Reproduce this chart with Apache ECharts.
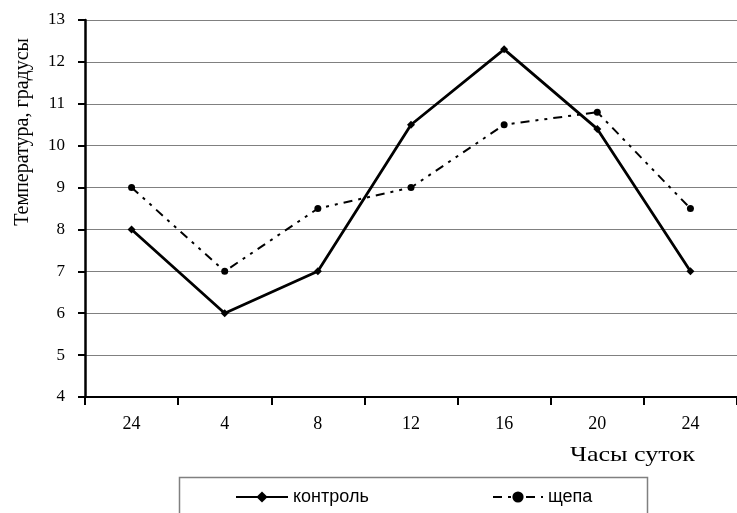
<!DOCTYPE html>
<html><head><meta charset="utf-8">
<script src="https://cdn.jsdelivr.net/npm/echarts@6/dist/echarts.min.js"></script>
<style>html,body{margin:0;padding:0;background:#fff}#c{width:737px;height:513px}</style>
</head><body><div id="c"></div>
<script>
const categories = ['24','4','8','12','16','20','24'];
const control = [8, 6, 7, 10.5, 12.3, 10.4, 7];
const chips = [9, 7, 8.5, 9, 10.5, 10.8, 8.5];
const yTitle = 'Температура, градусы';
const xTitle = 'Часы суток';
const serif = 'Liberation Serif';
const chart = echarts.init(document.getElementById('c'));
chart.setOption({
  animation: false,
  backgroundColor: '#fff',
  grid: {left: 85, top: 20, width: 658, height: 377},
  xAxis: {
    type: 'category', data: categories, boundaryGap: true,
    axisLine: {lineStyle: {color: '#000', width: 2}},
    axisTick: {show: true, alignWithLabel: false, length: 8, lineStyle: {color: '#000', width: 2}},
    axisLabel: {color: '#000', fontFamily: serif, fontSize: 18, margin: 18},
    splitLine: {show: false}
  },
  yAxis: {
    type: 'value', min: 4, max: 13, interval: 1,
    axisLine: {show: true, lineStyle: {color: '#000', width: 2.5}},
    axisTick: {show: true, length: 7, lineStyle: {color: '#000', width: 2}},
    axisLabel: {color: '#000', fontFamily: serif, fontSize: 17, margin: 20},
    splitLine: {show: true, lineStyle: {color: '#808080', width: 1.2}}
  },
  legend: [
    {data: ['контроль'], left: 230, top: 483, itemWidth: 52, itemHeight: 14, itemGap: 2,
     textStyle: {color: '#000', fontFamily: 'Liberation Sans', fontSize: 18}},
    {data: ['щепа'], left: 487, top: 483, itemWidth: 50, itemHeight: 14, itemGap: 8,
     textStyle: {color: '#000', fontFamily: 'Liberation Sans', fontSize: 18}}
  ],
  graphic: [
    {type: 'rect', left: 177, top: 475, shape: {width: 468, height: 60},
     style: {fill: 'none', stroke: '#808080', lineWidth: 1.5}, z: -1},
    {type: 'text', left: 13, top: 38, rotation: Math.PI / 2,
     style: {text: yTitle, fontFamily: serif, fontSize: 20, fill: '#000'}},
    {type: 'text', x: 570, y: 445, scaleX: 1.24,
     style: {text: xTitle, fontFamily: serif, fontSize: 21, fill: '#000'}}
  ],
  series: [
    {name: 'контроль', type: 'line', data: control, symbol: 'diamond', symbolSize: 8,
     itemStyle: {color: '#000'}, lineStyle: {color: '#000', width: 2.8}},
    {name: 'щепа', type: 'line', data: chips, symbol: 'circle', symbolSize: 7,
     itemStyle: {color: '#000'}, lineStyle: {color: '#000', width: 2, type: [9, 6, 3, 6, 3, 6]}}
  ]
});
</script></body></html>
